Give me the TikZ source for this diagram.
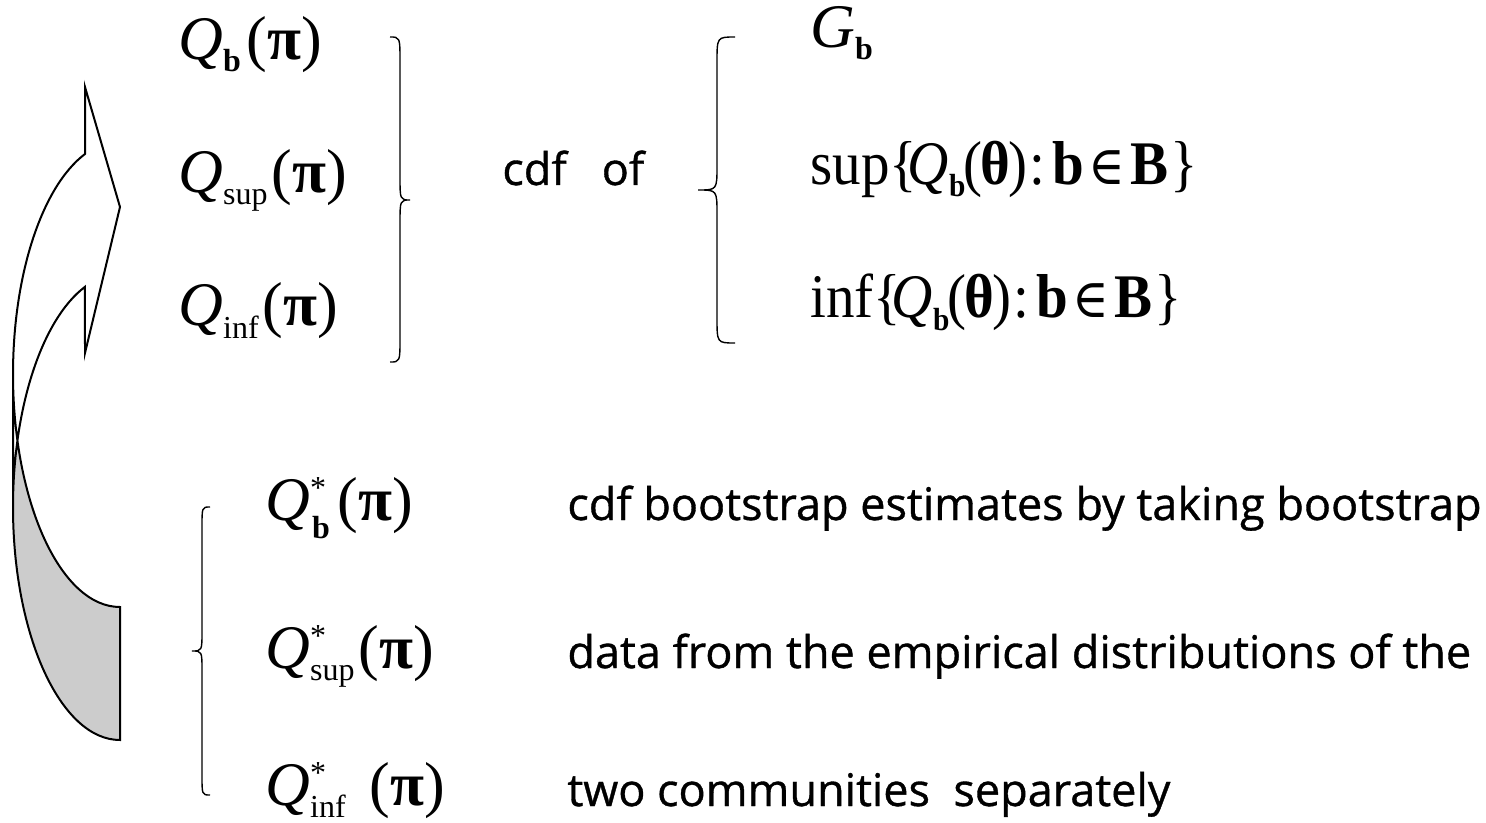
\documentclass[tikz,border=0pt]{standalone}
\usepackage{fontspec}
\newfontfamily\tnr{Liberation Serif}
\newfontfamily\djs{DejaVu Serif}
\newfontfamily\comic[FakeBold=0.8]{Open Sans}
\definecolor{backgray}{HTML}{CCCCCC}
\newcommand{\msz}{\fontsize{31}{36}\selectfont}
\newcommand{\ssz}{\fontsize{16}{18}\selectfont}
\newcommand{\Qi}{\textit{Q}}
\newcommand{\sbx}[1]{\raisebox{-6pt}{\ssz #1}}
\newcommand{\bsub}{\sbx{\bfseries b}}
\newcommand{\bpi}{\textbf{π}}
\newcommand{\bth}{\textbf{θ}}
\newcommand{\elem}{{\djs\fontsize{27}{30}\selectfont ∈}}
\newcommand{\mystar}{\makebox[0pt][l]{\raisebox{11pt}{\ssz *}}}
\newcommand{\setexpr}[1]{\scalebox{0.92}[1]{#1\{\hspace{-5pt}\Qi\bsub\hspace{-1pt}(\hspace{-1pt}\bth\hspace{-1pt})\hspace{1pt}:\hspace{4pt}\textbf{b}\hspace{2pt}\elem\hspace{3pt}\textbf{B}\hspace{1pt}\}}}
\tikzset{
  mathtxt/.style={anchor=base west, inner sep=0pt, font=\tnr\msz},
  wordtxt/.style={anchor=base west, inner sep=0pt, font=\comic\fontsize{22.5}{27}\selectfont},
  bracestroke/.style={draw=black, line width=0.7pt},
  arrowline/.style={draw=black, line width=1pt, line join=miter},
  ell/.style={x radius=107, y radius=233}
}
\begin{document}
\begin{tikzpicture}[x=0.5pt,y=-0.5pt]
\useasboundingbox (0,0) rectangle (1486,823);
\fill[white] (0,0) rectangle (1486,823);

% curved arrow: back (shaded) part
\fill[backgray] (17.5,440.5) arc[start angle=196.6, end angle=90, ell] -- (120,607)
  arc[start angle=90, end angle=163.4, ell] -- cycle;
% curved arrow outline
\draw[arrowline] (13,507) arc[start angle=180, end angle=250.9, ell]
  -- (85,353) -- (120,207) -- (85,87) -- (85,154)
  arc[start angle=250.9, end angle=180, ell] -- (13,507)
  arc[start angle=180, end angle=90, ell] -- (120,607)
  arc[start angle=90, end angle=180, ell];

% top left group
\node[mathtxt] (qb) at (178,60) {\Qi\bsub\hspace{3pt}(\bpi)};
\node[mathtxt] (qsup) at (178,193) {\Qi\sbx{sup}\hspace{2pt}(\bpi)};
\node[mathtxt] (qinf) at (178,326) {\Qi\sbx{inf}\hspace{2pt}(\bpi)};

% right brace of top group
\draw[bracestroke] (390,37) .. controls (400,37) .. (400,62) -- (400,176)
  .. controls (400,200) .. (410,200) .. controls (400,200) .. (400,224)
  -- (400,338) .. controls (400,362) .. (390,362);

\node[wordtxt] (cdfof) at (502,185) {cdf\ \ \ of};

% left brace of right group
\draw[bracestroke] (735,37) .. controls (717,37) .. (717,62) -- (717,166)
  .. controls (717,190) .. (698,190) .. controls (717,190) .. (717,214)
  -- (717,318) .. controls (717,343) .. (735,343);

\node[mathtxt] (gb) at (810,48) {\textit{G}\bsub};
\node[mathtxt] (supx) at (810,185) {\setexpr{sup}};
\node[mathtxt] (infx) at (810,318) {\setexpr{inf}};

% bottom group brace
\draw[bracestroke] (210,507) .. controls (202,507) .. (202,527) -- (202,631)
  .. controls (202,651) .. (192,651) .. controls (202,651) .. (202,671)
  -- (202,775) .. controls (202,795) .. (210,795);

\node[mathtxt] (qbs) at (265,520) {\Qi\mystar\hspace{1pt}\raisebox{-9pt}{\ssz\bfseries b}\hspace{4pt}(\bpi)};
\node[mathtxt] (qsups) at (265,668) {\Qi\mystar\sbx{sup}\hspace{2pt}(\bpi)};
\node[mathtxt] (qinfs) at (265,805) {\Qi\mystar\sbx{inf}\hspace{12pt}(\bpi)};

\node[wordtxt] (t1) at (567,520) {cdf bootstrap estimates by taking bootstrap};
\node[wordtxt] (t2) at (567,668) {data from the empirical distributions of the};
\node[wordtxt] (t3) at (567,806) {two communities\ \ separately};
\end{tikzpicture}
\end{document}
